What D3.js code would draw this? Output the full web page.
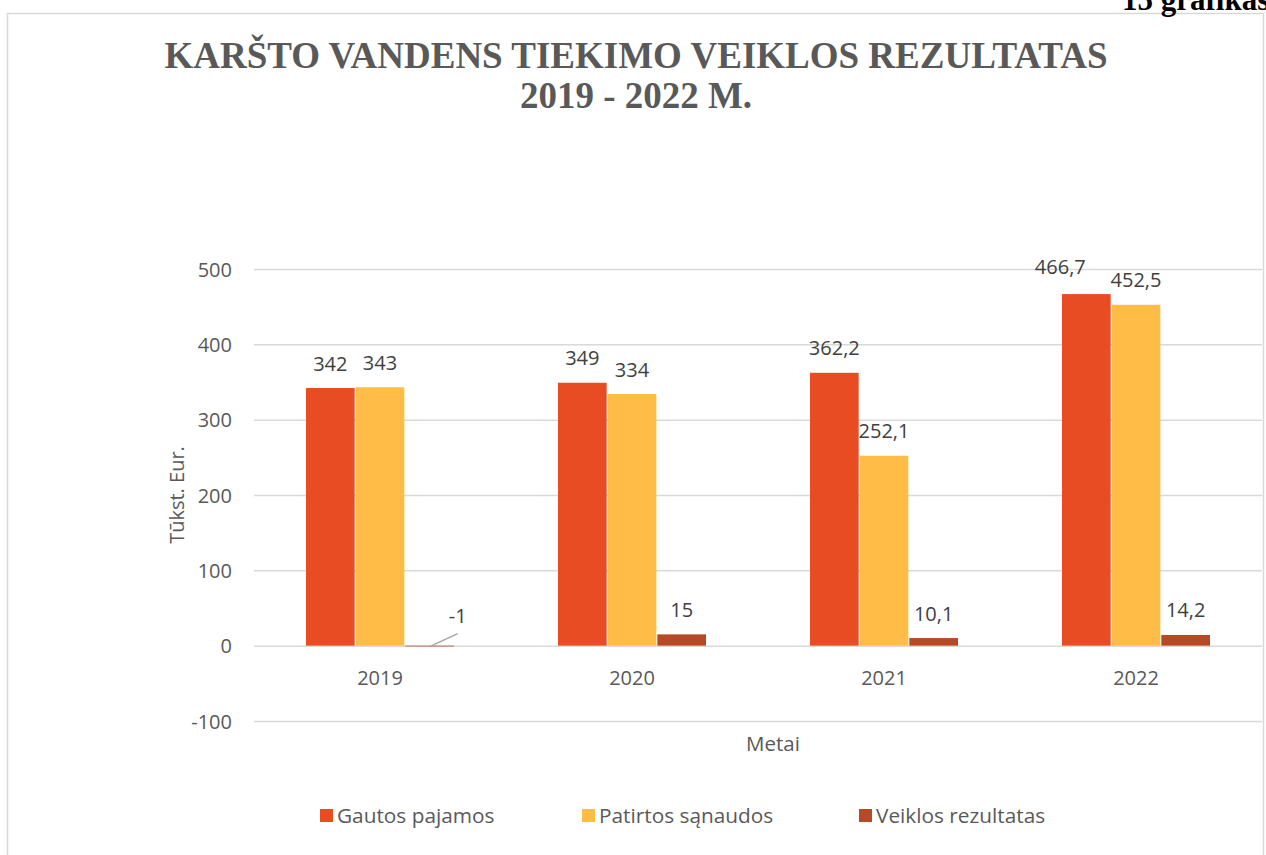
<!DOCTYPE html>
<html>
<head>
<meta charset="utf-8">
<script src="https://cdn.jsdelivr.net/npm/d3@7"></script>
<style>
  body { margin: 0; background: #fff; overflow: hidden; }
  svg { display: block; }
</style>
</head>
<body>
<div id="chart"></div>
<script>
// data
const years = ['2019', '2020', '2021', '2022'];
const seriesNames = ['Gautos pajamos', 'Patirtos sąnaudos', 'Veiklos rezultatas'];
const pajamos = [342, 349, 362.2, 466.7];
const sanaudos = [343, 334, 252.1, 452.5];
const rezultatas = [-1, 15, 10.1, 14.2];
const labels = [
  ['342', '349', '362,2', '466,7'],
  ['343', '334', '252,1', '452,5'],
  ['-1', '15', '10,1', '14,2']
];
const yTicks = [-100, 0, 100, 200, 300, 400, 500];
const colors = ['#e84c22', '#ffbd47', '#b64926'];

const W = 1266, H = 855;
const svg = d3.select('#chart').append('svg').attr('width', W).attr('height', H);

// chart frame
svg.append('rect')
  .attr('x', 7.5).attr('y', 13.5)
  .attr('width', 1256).attr('height', 900)
  .attr('fill', '#fff').attr('stroke', '#d9d9d9').attr('stroke-width', 1.5);

// caption in top right corner (cut by the page edge, like the original)
svg.append('text')
  .attr('x', 1122).attr('y', 10)
  .attr('font-family', 'Liberation Serif, serif')
  .attr('font-weight', 'bold').attr('font-size', 31)
  .attr('fill', '#000')
  .text('15 grafikas');

// title
const title = svg.append('text')
  .attr('text-anchor', 'middle')
  .attr('font-family', 'Liberation Serif, serif')
  .attr('font-weight', 'bold').attr('font-size', 37)
  .attr('fill', '#595959');
title.append('tspan').attr('x', 636).attr('y', 68).text('KARŠTO VANDENS TIEKIMO VEIKLOS REZULTATAS');
title.append('tspan').attr('x', 636).attr('y', 108).text('2019 - 2022 M.');

const plot = { left: 254, right: 1262 };

const x = d3.scaleBand().domain(years).range([plot.left, plot.right]);
const x1 = d3.scaleBand().domain(d3.range(3)).range([52, 252 - 52]).paddingInner(0.02);
const y = d3.scaleLinear().domain([-100, 500]).range([721, 269]);

const font = '"Open Sans", sans-serif';

// grid lines
svg.append('g')
  .selectAll('line').data(yTicks).join('line')
  .attr('x1', plot.left).attr('x2', plot.right)
  .attr('y1', d => y(d) + 0.5).attr('y2', d => y(d) + 0.5)
  .attr('stroke', '#d9d9d9').attr('stroke-width', 1.5);

// y axis labels
const yAxis = svg.append('g')
  .attr('transform', `translate(${plot.left - 22},0)`)
  .call(d3.axisLeft(y).tickValues(yTicks).tickSize(0).tickPadding(0).tickFormat(d => String(d)));
yAxis.select('.domain').remove();
yAxis.selectAll('text')
  .attr('font-family', font).attr('font-size', 20).attr('fill', '#595959')
  .attr('dy', '0.36em');

// x axis labels
const xAxis = svg.append('g')
  .attr('transform', `translate(0,${y(0)})`)
  .call(d3.axisBottom(x).tickSize(0));
xAxis.select('.domain').remove();
xAxis.selectAll('text')
  .attr('y', 39).attr('dy', 0)
  .attr('font-family', font).attr('font-size', 20).attr('fill', '#595959');

// bars
const series = [pajamos, sanaudos, rezultatas];
const barData = [];
series.forEach((vals, s) => vals.forEach((v, i) => barData.push({ s, i, v, year: years[i], label: labels[s][i] })));

svg.append('g')
  .selectAll('rect').data(barData).join('rect')
  .attr('x', d => x(d.year) + x1(d.s))
  .attr('width', x1.bandwidth())
  .attr('y', d => y(Math.max(0, d.v)))
  .attr('height', d => Math.abs(y(d.v) - y(0)))
  .attr('fill', d => colors[d.s]);

// data labels
const lbl = svg.append('g')
  .attr('font-family', font).attr('font-size', 20).attr('fill', '#404040')
  .attr('text-anchor', 'middle');

// the 2022 income label was dragged aside in the original
const nudge = d => (d.s === 0 && d.i === 3) ? [-26, -3] : [0, 0];

barData.filter(d => d.v >= 0).forEach(d => {
  const [dx, dy] = nudge(d);
  lbl.append('text')
    .attr('x', x(d.year) + x1(d.s) + x1.bandwidth() / 2 + dx)
    .attr('y', y(d.v) - 17.5 + dy)
    .text(d.label);
});

// negative label with leader line
barData.filter(d => d.v < 0).forEach(d => {
  const cx = x(d.year) + x1(d.s) + x1.bandwidth() / 2;
  svg.append('line')
    .attr('x1', cx).attr('y1', y(0) + 1)
    .attr('x2', cx + 28).attr('y2', y(0) - 12)
    .attr('stroke', '#a6a6a6').attr('stroke-width', 1.5);
  lbl.append('text')
    .attr('x', cx + 28)
    .attr('y', y(0) - 23)
    .text(d.label);
});

// axis titles
svg.append('text')
  .attr('transform', `translate(184,${(y(-100) + y(500)) / 2}) rotate(-90)`)
  .attr('text-anchor', 'middle')
  .attr('font-family', font).attr('font-size', 20).attr('fill', '#595959')
  .text('Tūkst. Eur.');

svg.append('text')
  .attr('x', 773).attr('y', 751)
  .attr('text-anchor', 'middle')
  .attr('font-family', font).attr('font-size', 20.5).attr('fill', '#595959')
  .text('Metai');

// legend
const legendX = [320, 582, 859];
const legend = svg.append('g');
seriesNames.forEach((name, k) => {
  legend.append('rect')
    .attr('x', legendX[k]).attr('y', 809)
    .attr('width', 13).attr('height', 13)
    .attr('fill', colors[k]);
  legend.append('text')
    .attr('x', legendX[k] + 17).attr('y', 823)
    .attr('font-family', font).attr('font-size', 20.8).attr('fill', '#595959')
    .text(name);
});
</script>
</body>
</html>
